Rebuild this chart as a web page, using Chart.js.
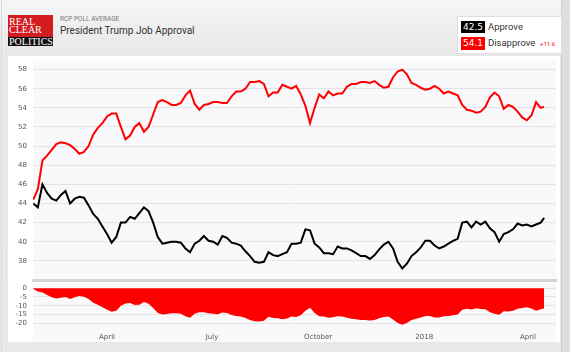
<!DOCTYPE html>
<html>
<head>
<meta charset="utf-8">
<script src="https://cdn.jsdelivr.net/npm/chart.js@4.4.1/dist/chart.umd.min.js"></script>
<style>
  body { margin: 0; background: #e8e8e8; }
  #wrap {
    position: relative; width: 570px; height: 352px; overflow: hidden;
    background: linear-gradient(#f6f6f6, #e7e7e7 56px, #e8e8e8);
    font-family: Roboto, "Noto Sans", sans-serif;
  }
  #edge { position: absolute; left: 1px; top: 0; width: 1px; height: 352px; background: #d9d9d9; }
  #rstrip { position: absolute; left: 561px; top: 0; width: 9px; height: 352px; background: #dedede; border-left: 1px solid #d0d0d0; }
  #panel { position: absolute; left: 8px; top: 56px; width: 552px; height: 286px; background: #fff; }
  #logo { position: absolute; left: 8px; top: 15px; width: 45px; }
  #logo .red {
    height: 22px; background: #d21c1f; color: #fff;
    font: 10px/8px "Liberation Serif", serif; padding: 3px 0 0 1px; box-sizing: border-box;
  }
  #logo .blk {
    height: 9px; background: #111; color: #fff;
    font: 10px/9px "Liberation Serif", serif; padding-left: 1px;
  }
  #sub { position: absolute; left: 60px; top: 15px; font-size: 6.5px; color: #777; }
  #title { position: absolute; left: 60px; top: 25px; font-size: 10px; color: #333; }
  #legend { position: absolute; left: 457px; top: 16px; width: 103px; height: 36px; background: #fff; border: 1px solid #ddd; }
  .badge { position: absolute; left: 3px; width: 24px; height: 12px; color: #fff;
    font: 9px/12px "DejaVu Sans", sans-serif; text-align: center; }
  .lab { position: absolute; left: 30px; font-size: 9.5px; color: #333; line-height: 12px; }
  #spread { position: absolute; left: 82px; top: 23px; font-size: 6px; color: #f00; }
  .box { position: absolute; left: 8px; width: 552px; }
</style>
</head>
<body>
<div id="wrap">
  <div id="edge"></div>
  <div id="rstrip"></div>
  <div id="panel"></div>
  <div id="logo"><div class="red">REAL<br>CLEAR</div><div class="blk">POLITICS</div></div>
  <div id="sub">RCP POLL AVERAGE</div>
  <div id="title">President Trump Job Approval</div>
  <div id="legend">
    <div class="badge" style="top:4px;background:#000">42.5</div>
    <div class="lab" style="top:4px">Approve</div>
    <div class="badge" style="top:20px;height:13px;background:#f00">54.1</div>
    <div class="lab" style="top:20px">Disapprove</div>
    <div id="spread">+11.6</div>
  </div>
  <div class="box" style="top:56px;height:228px"><canvas id="main"></canvas></div>
  <div class="box" style="top:282px;height:60px"><canvas id="nav"></canvas></div>
</div>
<script>
// days counted from Jan 1 2017
const days = [26, 30, 34, 38, 42, 46, 50, 54, 58, 62,
  66, 70, 74, 78, 82, 86, 90, 94, 98, 102,
  106, 110, 114, 118, 122, 126, 130, 134, 138, 142,
  146, 150, 154, 158, 162, 166, 170, 174, 178, 182,
  186, 190, 194, 198, 202, 206, 210, 214, 218, 222,
  226, 230, 234, 238, 242, 246, 250, 254, 258, 262,
  266, 270, 274, 278, 282, 286, 290, 294, 298, 302,
  306, 310, 314, 318, 322, 326, 330, 334, 338, 342,
  346, 350, 354, 358, 362, 366, 370, 374, 378, 382,
  386, 390, 394, 398, 402, 406, 410, 414, 418, 422,
  426, 430, 434, 438, 442, 446, 450, 454, 458, 462,
  466, 469]

const approve = [44.0, 43.6, 46.0, 45.1, 44.5, 44.3, 44.9, 45.3, 44.0, 44.5,
  44.7, 44.6, 43.8, 42.9, 42.4, 41.6, 40.8, 39.9, 40.5, 42.0,
  42.0, 42.6, 42.4, 43.0, 43.6, 43.2, 42.0, 40.5, 39.8, 39.9,
  40.0, 40.0, 39.9, 39.3, 38.9, 39.8, 40.1, 40.6, 40.1, 40.0,
  39.7, 40.6, 40.4, 39.9, 39.8, 39.6, 39.0, 38.5, 37.9, 37.8,
  37.9, 38.9, 38.6, 38.5, 38.7, 38.9, 39.8, 39.8, 39.9, 41.3,
  41.2, 39.8, 39.4, 38.8, 38.8, 38.7, 39.5, 39.3, 39.3, 39.1,
  38.8, 38.5, 38.5, 38.2, 38.6, 39.2, 39.7, 40.0, 39.3, 37.9,
  37.2, 37.7, 38.5, 38.9, 39.4, 40.1, 40.1, 39.6, 39.3, 39.5,
  39.8, 40.1, 40.3, 42.0, 42.1, 41.5, 42.1, 41.8, 42.1, 41.4,
  41.0, 40.0, 40.8, 41.0, 41.3, 41.9, 41.7, 41.8, 41.6, 41.8,
  42.0, 42.5]

const disapprove = [44.4, 45.5, 48.5, 49.0, 49.6, 50.2, 50.4, 50.3, 50.1, 49.7,
  49.2, 49.4, 50.0, 51.2, 51.9, 52.4, 53.1, 53.4, 53.4, 52.0,
  50.7, 51.1, 52.0, 52.4, 51.5, 52.0, 53.3, 54.6, 54.8, 54.6,
  54.3, 54.3, 54.5, 55.3, 55.8, 54.4, 53.8, 54.3, 54.4, 54.6,
  54.6, 54.5, 54.5, 55.2, 55.7, 55.7, 56.0, 56.7, 56.7, 56.8,
  56.5, 55.2, 55.6, 55.6, 56.4, 56.2, 56.0, 56.3, 55.4, 54.2,
  52.4, 54.0, 55.4, 55.0, 55.7, 55.3, 55.5, 55.5, 56.2, 56.5,
  56.5, 56.7, 56.7, 56.6, 56.8, 56.4, 56.1, 56.2, 57.2, 57.8,
  58.0, 57.5, 56.6, 56.4, 56.1, 55.9, 56.0, 56.3, 56.0, 55.5,
  55.7, 55.5, 55.3, 54.3, 53.8, 53.7, 53.5, 53.6, 54.1, 55.1,
  55.6, 55.2, 53.9, 54.3, 54.1, 53.6, 53.0, 52.7, 53.2, 54.6,
  54.0, 54.1]

const mainTicks = [38, 40, 42, 44, 46, 48, 50, 52, 54, 56, 58]
const spreadTicks = [0, -5, -10, -15, -20]
const monthDays = [90, 181, 273, 365, 455]
const monthLabels = ["April", "July", "October", "2018", "April"]

const spread = approve.map((a, i) => Math.round((a - disapprove[i]) * 10) / 10)

const tickFont = { family: "DejaVu Sans", size: 7 }
const xMin = 25.8
const xMax = 479.3

// shade the plot area a touch
const plotBg = {
  id: "plotBg",
  beforeDraw(chart, args, opts) {
    const { ctx, chartArea } = chart
    ctx.save()
    ctx.fillStyle = "#f9f9fb"
    const bottom = opts.toEdge ? chart.height : chartArea.bottom
    ctx.fillRect(chartArea.left, chartArea.top, chartArea.right - chartArea.left, bottom - chartArea.top)
    ctx.restore()
  }
}

const yFit = (scale) => {
  scale.width = 25
  scale.paddingTop = 0
  scale.paddingBottom = 0
}

new Chart(document.getElementById("main"), {
  type: "line",
  data: {
    datasets: [
      {
        label: "Disapprove",
        data: days.map((d, i) => ({ x: d, y: disapprove[i] })),
        borderColor: "#ff0000",
        borderWidth: 2,
        pointRadius: 0,
        tension: 0
      },
      {
        label: "Approve",
        data: days.map((d, i) => ({ x: d, y: approve[i] })),
        borderColor: "#000000",
        borderWidth: 2,
        pointRadius: 0,
        tension: 0
      }
    ]
  },
  options: {
    responsive: true,
    maintainAspectRatio: false,
    animation: false,
    layout: { padding: { top: 4, right: 4, bottom: 4, left: 0 } },
    plugins: { legend: { display: false }, tooltip: { enabled: false }, plotBg: {} },
    scales: {
      x: {
        type: "linear",
        min: xMin,
        max: xMax,
        ticks: { display: false },
        grid: { color: "rgba(0,0,0,0)", drawTicks: false },
        border: { display: true, color: "#d4d4d4", width: 3 }
      },
      y: {
        min: 36,
        max: 59,
        afterBuildTicks: (scale) => { scale.ticks = mainTicks.map(v => ({ value: v })) },
        afterFit: yFit,
        ticks: { font: tickFont, color: "#555", padding: 6, autoSkip: false },
        grid: { color: "#e4e4e8", drawTicks: false },
        border: { display: false }
      }
    }
  },
  plugins: [plotBg]
})

new Chart(document.getElementById("nav"), {
  type: "line",
  data: {
    datasets: [
      {
        label: "Spread",
        data: days.map((d, i) => ({ x: d, y: spread[i] })),
        borderColor: "#ff0000",
        backgroundColor: "#ff0000",
        borderWidth: 0,
        pointRadius: 0,
        tension: 0,
        fill: "origin"
      }
    ]
  },
  options: {
    responsive: true,
    maintainAspectRatio: false,
    animation: false,
    layout: { padding: { top: 1, right: 4, bottom: 0, left: 0 } },
    plugins: { legend: { display: false }, tooltip: { enabled: false }, plotBg: { toEdge: true } },
    scales: {
      x: {
        type: "linear",
        min: xMin,
        max: xMax,
        afterBuildTicks: (scale) => { scale.ticks = monthDays.map(v => ({ value: v })) },
        afterFit: (scale) => {
          scale.height = 16.5
          scale.paddingLeft = 0
          scale.paddingRight = 0
        },
        ticks: {
          font: tickFont,
          color: "#555",
          padding: 7,
          maxRotation: 0,
          autoSkip: false,
          callback: (value) => monthLabels[monthDays.indexOf(value)]
        },
        grid: { color: "rgba(0,0,0,0)", drawTicks: false },
        border: { display: false }
      },
      y: {
        min: -21.3,
        max: 3,
        afterBuildTicks: (scale) => { scale.ticks = spreadTicks.map(v => ({ value: v })) },
        afterFit: yFit,
        ticks: { font: tickFont, color: "#555", padding: 6, autoSkip: false, callback: (v) => String(v) },
        grid: { color: "#e4e4e8", drawTicks: false },
        border: { display: false }
      }
    }
  },
  plugins: [plotBg]
})
</script>
</body>
</html>
